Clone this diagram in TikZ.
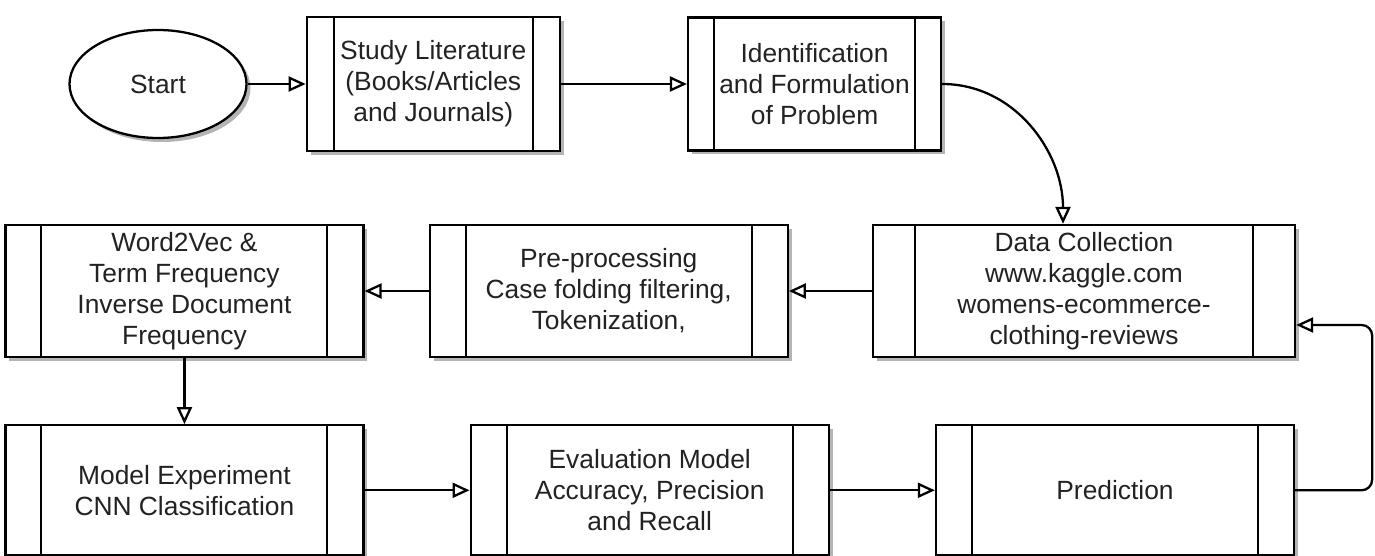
\documentclass[tikz,border=0pt]{standalone}
\usepackage{fontspec}
\setmainfont{Liberation Sans}
\usepackage{tikz}
\usetikzlibrary{positioning,arrows.meta,shapes.geometric,shadows}
\definecolor{ctexto}{HTML}{222222}
\definecolor{csombra}{HTML}{B4B4B4}
\tikzset{
  sombra/.style={drop shadow={shadow xshift=0.08cm, shadow yshift=-0.08cm,
    fill=csombra, opacity=1}},
  proceso/.style={rectangle, draw=black, line width=1.3pt, fill=white, sombra,
    minimum width=7.16cm, minimum height=2.64cm, align=center, inner sep=0pt,
    font=\fontsize{15}{17.6}\selectfont, text=ctexto,
    path picture={
      \draw[line width=1.2pt] ([xshift=#1]path picture bounding box.north west)
        -- ([xshift=#1]path picture bounding box.south west);
      \draw[line width=1.2pt] ([xshift=-#1]path picture bounding box.north east)
        -- ([xshift=-#1]path picture bounding box.south east);
    }},
  proceso/.default=0.72cm,
  inicio/.style={ellipse, draw=black, line width=1.3pt, fill=white, sombra,
    minimum width=3.54cm, minimum height=2.16cm, inner sep=0pt,
    font=\fontsize{15}{17.6}\selectfont, text=ctexto},
  flecha/.style={-{Triangle[open, length=3.4mm, width=3mm]}, line width=1.3pt, draw=black},
}

\begin{document}
\begin{tikzpicture}
  \useasboundingbox (0,0) rectangle (27.5,-11.12);
  % top row
  \node[inicio] (start) at (3.16,-1.68) {Start};
  \node[proceso=0.54cm, minimum width=5.06cm, minimum height=2.68cm, right=1.16cm of start] (lit)
    {Study Literature\\(Books/Articles\\and Journals)};
  \node[proceso=0.52cm, minimum width=5.06cm, minimum height=2.66cm, right=2.52cm of lit] (ident)
    {Identification\\and Formulation\\of Problem};
  % middle row, right to left
  \node[proceso=0.84cm, minimum width=8.44cm] (data) at (21.68,-5.82)
    {Data Collection\\www.kaggle.com\\womens-ecommerce-\\clothing-reviews};
  \node[proceso, left=1.66cm of data] (prep)
    {Pre-processing\\Case folding filtering,\\Tokenization,};
  \node[proceso, left=1.28cm of prep] (w2v)
    {Word2Vec \&\\Term Frequency\\Inverse Document\\Frequency};
  % bottom row
  \node[proceso, minimum height=2.6cm, below=1.32cm of w2v] (model)
    {Model Experiment\\CNN Classification};
  \node[proceso, minimum height=2.6cm, right=2.1cm of model] (eval)
    {Evaluation Model\\Accuracy, Precision\\and Recall};
  \node[proceso, minimum height=2.6cm, right=2.1cm of eval] (pred) {Prediction};

  \draw[flecha] (start) -- (lit);
  \draw[flecha] (lit) -- (ident);
  \draw[flecha] (ident.east) to[out=0, in=90] ([xshift=-0.42cm]data.north);
  \draw[flecha] (data) -- (prep);
  \draw[flecha] (prep) -- (w2v);
  \draw[flecha] (w2v) -- (model);
  \draw[flecha] (model) -- (eval);
  \draw[flecha] (eval) -- (pred);
  \draw[flecha, rounded corners=6pt] (pred.east) -- ++(1.54,0) |- ([yshift=-0.68cm]data.east);
\end{tikzpicture}
\end{document}
